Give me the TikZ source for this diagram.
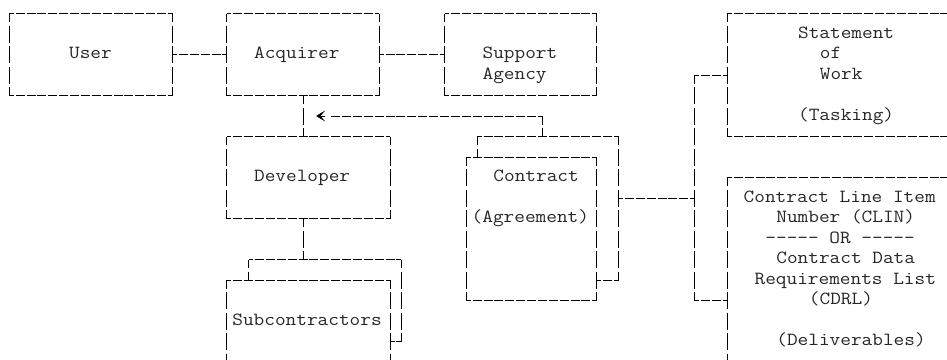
\documentclass[tikz,border=0pt]{standalone}
\usepackage{graphicx}
\usetikzlibrary{arrows.meta,calc}
\tikzset{
  hd/.style={draw=black, line width=0.9pt, dash pattern=on 9pt off 1.88pt, dash phase=4.5pt},
  vd/.style={draw=black, line width=0.9pt, dash pattern=on 17pt off 3.5pt, dash phase=8.5pt},
  frame/.style={draw=none, inner sep=0pt, outer sep=0pt, rectangle},
  txt/.style={inner sep=0pt, outer sep=0pt, anchor=base west, text=black!85, font=\fontsize{18.5}{20.5}\selectfont\ttfamily},
  tipline/.style={draw=black, line width=0.9pt, -{Stealth[length=9pt,width=11pt,inset=4.5pt]}},
}
\newcommand\mkgbox[5]{%
  \pgfmathsetmacro\gbW{(#3-#2)*10.88}%
  \pgfmathsetmacro\gbH{(#5-#4)*20.5}%
  \node[frame, minimum width=\gbW pt, minimum height=\gbH pt] (#1) at ({(#2+#3)/2},{(#4+#5)/2}) {};}
\newcommand\mkgsides[1]{%
  \draw[hd] (#1.north west) -- (#1.north east) (#1.south west) -- (#1.south east);
  \draw[vd] (#1.north west) -- (#1.south west) (#1.north east) -- (#1.south east);}
\newcommand\mktext[4]{\node[txt] (#1) at ({#2-0.5},{#3+0.205}) {\scalebox{1.12}[1]{#4}};}
\begin{document}
\begin{tikzpicture}[x=10.88pt,y=-20.5pt]
\useasboundingbox (-0.855,-0.6585) rectangle (86.186,16.902);
% boxes
\mkgbox{user}{0}{15}{0}{4}
\mkgbox{acq}{20}{34}{0}{4}
\mkgbox{sup}{40}{54}{0}{4}
\mkgbox{sow}{66}{88}{0}{6}
\mkgbox{dev}{20}{35}{6}{10}
\mkgbox{cb}{43}{56}{6}{13}
\mkgbox{cf}{42}{54}{7}{14}
\mkgbox{clin}{66}{88}{8}{19}
\mkgbox{sb}{22}{36}{12}{16}
\mkgbox{sf}{20}{35}{13}{19}
\mkgsides{user}
\mkgsides{acq}
\mkgsides{sup}
\mkgsides{sow}
\mkgsides{dev}
\mkgsides{cf}
\mkgsides{clin}
\mkgsides{sf}
% back boxes (visible parts)
\draw[hd] (cb.north west) -- (cb.north east);
\draw[vd] (cb.north west) -- (cb.north west |- cf.north);
\draw[vd] (cb.north east) -- (cb.south east);
\draw[hd] (cb.south east) -- (cb.south east -| cf.east);
\draw[hd] (sb.north west) -- (sb.north east);
\draw[vd] (sb.north west) -- (sb.north west |- sf.north);
\draw[vd] (sb.north east) -- (sb.south east);
\draw[hd] (sb.south east) -- (sb.south east -| sf.east);
% connectors
\draw[hd] (user.east) -- (acq.west);
\draw[hd] (acq.east) -- (sup.west);
\draw[vd] (acq.south) -- (acq.south |- dev.north);
\draw[vd] (acq.south |- dev.south) -- (acq.south |- sb.north);
\coordinate (acorner) at (49,5);
\coordinate (aend) at (29.5,5);
\coordinate (aback) at (29.05,5);
\coordinate (atip) at (28.2,5);
\draw[vd] (acorner |- cb.north) -- (acorner);
\draw[hd] (acorner) -- (aend);
\draw[tipline] (aback) -- (atip);
\coordinate (jt) at (63,3);
\coordinate (jm) at (63,9);
\coordinate (jb) at (63,14);
\draw[hd] (sow.west) -- (jt);
\draw[vd] (jt) -- (jb);
\draw[hd] (jb) -- (jb -| clin.west);
\draw[hd] (jm -| cb.east) -- (jm);
% texts
\mktext{tuser}{6}{2}{User}
\mktext{tacq}{23}{2}{Acquirer}
\mktext{tsup}{44}{2}{Support}
\mktext{tag}{44}{3}{Agency}
\mktext{ts1}{73}{1}{Statement}
\mktext{ts2}{75}{2}{of}
\mktext{ts3}{75}{3}{Work}
\mktext{ts4}{73}{5}{(Tasking)}
\mktext{tdev}{23}{8}{Developer}
\mktext{tcon}{45}{8}{Contract}
\mktext{tagr}{43}{10}{(Agreement)}
\mktext{tsub}{21}{15}{Subcontractors}
\mktext{tc1}{68}{9}{Contract Line Item}
\mktext{tc2}{71}{10}{Number (CLIN)}
\mktext{tc3}{70}{11}{-{}-{}-{}-{}- OR -{}-{}-{}-{}-}
\mktext{tc4}{71}{12}{Contract Data}
\mktext{tc5}{69}{13}{Requirements List}
\mktext{tc6}{74}{14}{(CDRL)}
\mktext{tc7}{71}{16}{(Deliverables)}
\end{tikzpicture}
\end{document}
